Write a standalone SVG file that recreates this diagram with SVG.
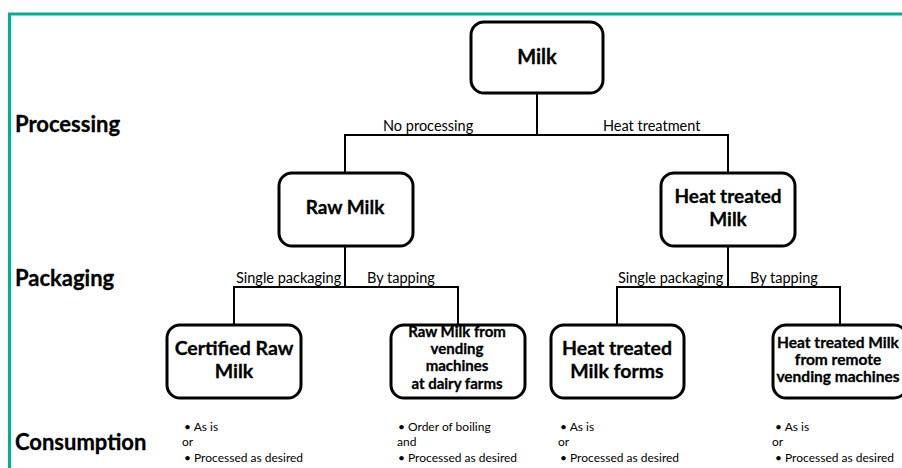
<svg xmlns="http://www.w3.org/2000/svg" width="902" height="468" viewBox="0 0 902 468">
<style>
.box{fill:#fff;stroke:#000;stroke-width:3}
.ln{fill:none;stroke:#000;stroke-width:2}
.t{font-family:Lato,"Open Sans",sans-serif;font-weight:bold;fill:#000;text-anchor:middle;stroke:#000;stroke-width:0.3}
.h{font-family:Lato,"Open Sans",sans-serif;font-weight:bold;font-size:22px;fill:#000;stroke:#000;stroke-width:0.3}
.l{font-family:Lato,"Open Sans",sans-serif;font-size:14.5px;fill:#000}
.s{font-family:Lato,"Open Sans",sans-serif;font-size:12px;fill:#000}
</style>
<rect width="902" height="468" fill="#fff"/>
<path d="M9.5 470 V14 H905" fill="none" stroke="#00ae98" stroke-width="3"/>
<g id="headings">
<text class="h" x="15" y="132">Processing</text>
<text class="h" x="15" y="286">Packaging</text>
<text class="h" x="15" y="450">Consumption</text>
</g>
<g id="connectors">
<path class="ln" d="M537 94 V135 M345 172 V135 H728 V172"/>
<path class="ln" d="M345 246 V287 M234 324 V287 H458 V324"/>
<path class="ln" d="M728 246 V287 M617 324 V287 H840 V324"/>
<text class="l" x="383" y="131">No processing</text>
<text class="l" x="603" y="131">Heat treatment</text>
<text class="l" x="236" y="283">Single packaging</text>
<text class="l" x="367" y="283">By tapping</text>
<text class="l" x="618" y="283">Single packaging</text>
<text class="l" x="750" y="283">By tapping</text>
</g>
<g id="milk">
<rect class="box" x="471" y="22" width="132" height="71" rx="13"/>
<text class="t" x="537" y="64" font-size="20">Milk</text>
</g>
<g id="raw-milk">
<rect class="box" x="279" y="173" width="134" height="73" rx="13"/>
<text class="t" x="345" y="214" font-size="19">Raw Milk</text>
</g>
<g id="heat-treated-milk">
<rect class="box" x="661" y="173" width="134" height="73" rx="13"/>
<text class="t" x="728" y="203" font-size="19">Heat treated</text>
<text class="t" x="728" y="226" font-size="19">Milk</text>
</g>
<g id="certified-raw-milk">
<rect class="box" x="167" y="325" width="134" height="73" rx="13"/>
<text class="t" x="234" y="355" font-size="19.5">Certified Raw</text>
<text class="t" x="234" y="378" font-size="19.5">Milk</text>
</g>
<g id="raw-milk-vending">
<rect class="box" x="391" y="325" width="134" height="73" rx="13"/>
<text class="t" x="457" y="337" font-size="15">Raw Milk from</text>
<text class="t" x="457" y="354" font-size="15">vending</text>
<text class="t" x="457" y="371" font-size="15">machines</text>
<text class="t" x="457" y="389" font-size="15">at dairy farms</text>
</g>
<g id="heat-treated-forms">
<rect class="box" x="551" y="325" width="133" height="73" rx="13"/>
<text class="t" x="617" y="355" font-size="19.5">Heat treated</text>
<text class="t" x="617" y="378" font-size="19.5">Milk forms</text>
</g>
<g id="heat-treated-remote">
<rect class="box" x="773" y="325" width="134" height="73" rx="13"/>
<text class="t" x="838" y="348" font-size="15.5">Heat treated Milk</text>
<text class="t" x="838" y="365" font-size="15.5">from remote</text>
<text class="t" x="838" y="382" font-size="15.5">vending machines</text>
</g>
<g id="consumption">
<text class="s" x="184" y="431">•  As is</text>
<text class="s" x="182" y="446">or</text>
<text class="s" x="184" y="462">•  Processed as desired</text>
<text class="s" x="398" y="431">•  Order of boiling</text>
<text class="s" x="397" y="446">and</text>
<text class="s" x="398" y="462">•  Processed as desired</text>
<text class="s" x="560" y="431">•  As is</text>
<text class="s" x="558" y="446">or</text>
<text class="s" x="560" y="462">•  Processed as desired</text>
<text class="s" x="775" y="431">•  As is</text>
<text class="s" x="772" y="446">or</text>
<text class="s" x="775" y="462">•  Processed as desired</text>
</g>
</svg>
